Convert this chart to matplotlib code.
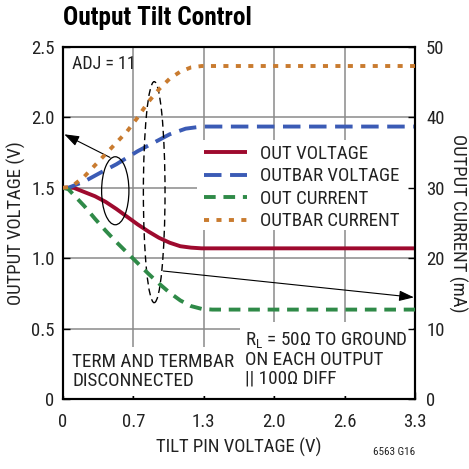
import matplotlib
matplotlib.use("Agg")
import matplotlib.pyplot as plt
from matplotlib import font_manager
from matplotlib.patches import Ellipse, Rectangle

# ---- pick a condensed sans font if one is installed ----
_fonts = font_manager.fontManager.ttflist
_names = {f.name for f in _fonts}
FAMILY = None
STRETCH = 'normal'
for cand in ['Liberation Sans Narrow', 'Roboto Condensed', 'Open Sans Condensed',
             'Noto Sans Condensed', 'DejaVu Sans Condensed', 'Arial Narrow']:
    if cand in _names:
        FAMILY = cand
        break
if FAMILY is None:
    for f in _fonts:
        if f.stretch in ('condensed', 'semi-condensed', 'extra-condensed') and 'Sans' in f.name \
                and 'CJK' not in f.name and 'Mono' not in f.name:
            FAMILY = f.name
            STRETCH = f.stretch
            break
if FAMILY is None:
    FAMILY = 'Liberation Sans'
    SCALE = 0.86
else:
    SCALE = 1.0
plt.rcParams['font.family'] = [FAMILY, 'DejaVu Sans']
plt.rcParams['font.stretch'] = STRETCH
plt.rcParams['mathtext.fontset'] = 'custom'
plt.rcParams['mathtext.rm'] = FAMILY

# ---- data ----
x_out_v = [0, 0.1, 0.2, 0.3, 0.4, 0.5, 0.6, 0.7, 0.8, 0.9, 1.0, 1.1, 1.2, 1.3, 1.5, 2.0, 2.6, 3.3]
out_voltage = [1.50, 1.50, 1.47, 1.44, 1.40, 1.35, 1.295, 1.24, 1.19, 1.145, 1.11, 1.085, 1.075, 1.07, 1.07, 1.07, 1.07, 1.07]

x_outbar_v = [0, 0.05, 0.2, 0.35, 0.5, 0.7, 0.85, 1.0, 1.15, 1.3, 1.5, 2.0, 2.6, 3.3]
outbar_voltage = [1.50, 1.50, 1.545, 1.607, 1.667, 1.76, 1.82, 1.88, 1.92, 1.935, 1.935, 1.935, 1.935, 1.935]

x_cur = [0, 0.05, 0.1, 0.2, 0.3, 0.4, 0.5, 0.6, 0.7, 0.8, 0.9, 1.0, 1.1, 1.2, 1.3, 1.4, 2.0, 2.6, 3.3]
out_current = [30, 29.8, 29.0, 27.4, 25.6, 23.9, 22.3, 20.8, 19.3, 17.8, 16.4, 15.1, 14.0, 13.2, 12.8, 12.7, 12.7, 12.7, 12.7]
outbar_current = [30, 30.1, 30.4, 31.6, 33.2, 34.8, 36.4, 38.0, 40.0, 42.2, 44.0, 45.5, 46.5, 47.1, 47.3, 47.3, 47.3, 47.3, 47.3]

x_ticks = [0, 0.66, 1.32, 1.98, 2.64, 3.3]
x_tick_labels = ['0', '0.7', '1.3', '2.0', '2.6', '3.3']
v_ticks = [0, 0.5, 1.0, 1.5, 2.0, 2.5]
v_tick_labels = ['0', '0.5', '1.0', '1.5', '2.0', '2.5']
i_ticks = [0, 10, 20, 30, 40, 50]

RED = '#9E0A2E'
BLUE = '#3B5BB5'
GREEN = '#2F8A48'
ORANGE = '#C97B2F'
TXT = '#222222'
FT = 13.5 * SCALE
FN = 13.8 * SCALE

fig = plt.figure(figsize=(4.69, 4.69), dpi=100)
ax = fig.add_axes([63/469, 1-399/469, 352/469, 352/469])
ax2 = ax.twinx()

ax.set_xlim(0, 3.3)
ax.set_ylim(0, 2.5)
ax2.set_ylim(0, 50)

ax.set_xticks(x_ticks)
ax.set_xticklabels(x_tick_labels)
ax.set_yticks(v_ticks)
ax.set_yticklabels(v_tick_labels)
ax2.set_yticks(i_ticks)

ax.grid(True, color='#8a8a8a', linewidth=1.1, zorder=0)
ax.set_axisbelow(True)

for a in (ax, ax2):
    for s in a.spines.values():
        s.set_linewidth(1.5)
        s.set_color('black')
ax.tick_params(axis='both', direction='in', length=5, width=1, labelsize=FT, pad=4,
               top=False, right=False, colors='black', labelcolor=TXT)
ax.tick_params(axis='x', pad=10)
ax.tick_params(axis='y', pad=6)
ax2.tick_params(axis='y', direction='in', length=5, width=1, labelsize=FT, pad=8,
                labelcolor=TXT)

l1, = ax.plot(x_out_v, out_voltage, color=RED, lw=2.8, solid_capstyle='butt', zorder=3)
l2, = ax.plot(x_outbar_v, outbar_voltage, color=BLUE, lw=2.8, dashes=(4.5, 2.2), zorder=3)
l3, = ax2.plot(x_cur, out_current, color=GREEN, lw=2.8, dashes=(3, 2), zorder=3)
l4, = ax2.plot(x_cur, outbar_current, color=ORANGE, lw=2.8, dashes=(1.3, 1.9), zorder=3)

ax.set_xlabel('TILT PIN VOLTAGE (V)', fontsize=FT, color=TXT, labelpad=5)
ax.set_ylabel('OUTPUT VOLTAGE (V)', fontsize=FT, color=TXT, labelpad=4)
ax2.set_ylabel('OUTPUT CURRENT (mA)', fontsize=FT, color=TXT, rotation=-90, labelpad=16)

# white areas behind legend and notes (they hide the grid)
ax.add_patch(Rectangle(((197-63)/106.67, (399-230)/140.8), (415-197)/106.67, 90/140.8,
                       facecolor='white', edgecolor='none', zorder=1.5))
ax.add_patch(Rectangle((0, 0.02), (237-63)/106.67, (397-348)/140.8, facecolor='white',
                       edgecolor='none', zorder=1.5))
ax.add_patch(Rectangle(((240-63)/106.67, 0.02), (413-240)/106.67, (397-323)/140.8,
                       facecolor='white', edgecolor='none', zorder=1.5))

leg = ax2.legend([l1, l2, l3, l4], ['OUT VOLTAGE', 'OUTBAR VOLTAGE', 'OUT CURRENT', 'OUTBAR CURRENT'],
                 loc='upper left', bbox_to_anchor=((200-63)/352, (399-141)/352), frameon=False,
                 fontsize=13.6 * SCALE, handlelength=2.3, handletextpad=0.7, labelspacing=0.24,
                 borderpad=0.2, borderaxespad=0)
for t in leg.get_texts():
    t.set_color(TXT)

ax.text(0.08, 2.44, 'ADJ = 11', fontsize=13 * SCALE, color=TXT, va='top', ha='left', zorder=4)
ax.text(0.085, 0.325, 'TERM AND TERMBAR\nDISCONNECTED', fontsize=FN, color=TXT,
        va='top', ha='left', linespacing=1.02, zorder=4)
ax.text(1.71, 0.485, 'R$_\\mathregular{L}$ = 50\u03a9 TO GROUND\nON EACH OUTPUT\n|| 100\u03a9 DIFF',
        fontsize=FN, color=TXT, va='top', ha='left', linespacing=1.02, zorder=4)

# annotations: ellipses and arrows
ax.add_patch(Ellipse((0.49, 1.479), 0.256, 0.483, fill=False, edgecolor='black', lw=0.9, zorder=4))
ax.add_patch(Ellipse((0.855, 1.469), 0.203, 1.57, fill=False, edgecolor='black', lw=1.0,
                     linestyle=(0, (5, 3)), zorder=4))
ax.annotate('', xy=(0.012, 1.88), xytext=(0.44, 1.716),
            arrowprops=dict(arrowstyle='-|>,head_length=0.9,head_width=0.32', color='black', lw=0.8,
                            shrinkA=0, shrinkB=0), zorder=4)
ax.annotate('', xy=(3.29, 0.722), xytext=(0.94, 0.909),
            arrowprops=dict(arrowstyle='-|>,head_length=0.9,head_width=0.32', color='black', lw=0.8,
                            shrinkA=0, shrinkB=0), zorder=4)

fig.text(63/469, 1-18/469, 'Output Tilt Control', fontsize=18.3 * SCALE, fontweight='bold',
         ha='left', va='center', color='black')
fig.text(415/469, 1-452/469, '6563 G16', fontsize=8 * SCALE, ha='right', va='center', color=TXT)

fig.savefig('out.png', dpi=100)
